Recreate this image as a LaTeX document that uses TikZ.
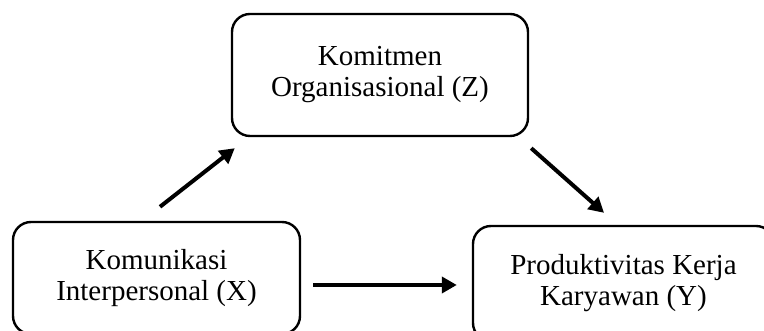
\documentclass[tikz,border=0pt]{standalone}
\usepackage{fontspec}
\setmainfont{Liberation Serif}
\usetikzlibrary{arrows.meta}

\begin{document}
\begin{tikzpicture}[x=1pt, y=1pt,
        box/.style={draw, line width=2.4pt, rounded corners=18pt, align=center,
            inner sep=0pt, font=\fontsize{29}{31}\selectfont},
        arrow/.style={line width=4pt, -{Triangle[length=15pt, width=16pt]}}]
            \useasboundingbox (0,0) rectangle (764,331);
            \node[box, minimum width=296, minimum height=122] (komitmen) at (380, 256) {Komitmen\\Organisasional (Z)};
            \node[box, minimum width=287, minimum height=112] (komunikasi) at (156.5, 53) {Komunikasi\\Interpersonal (X)};
            \node[box, minimum width=301, minimum height=115] (produktivitas) at (623.5, 47.5) {Produktivitas Kerja\\Karyawan (Y)};
            \draw[arrow] ([shift={(3.5,14)}]komunikasi.north) -- ([shift={(4,-11)}]komitmen.south west);
            \draw[arrow] ([shift={(2,-11)}]komitmen.south east) -- ([shift={(-19.5,12)}]produktivitas.north);
            \draw[arrow] ([shift={(12,-7)}]komunikasi.east) -- ([shift={(-15,-1.5)}]produktivitas.west);
        \end{tikzpicture}
\end{document}
